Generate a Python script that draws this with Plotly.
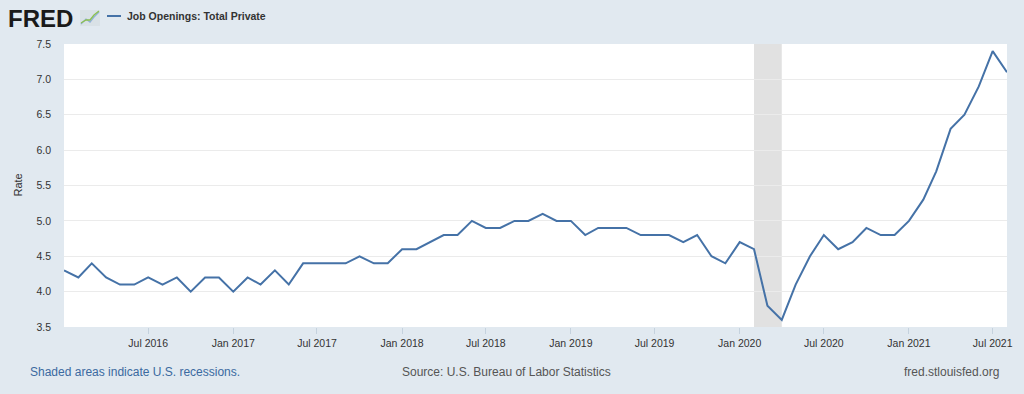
import plotly.graph_objects as go
import pandas as pd

dates = pd.date_range("2016-01-01", "2021-08-01", freq="MS")
values = [
    4.3, 4.2, 4.4, 4.2, 4.1, 4.1, 4.2, 4.1, 4.2, 4.0, 4.2, 4.2,
    4.0, 4.2, 4.1, 4.3, 4.1, 4.4, 4.4, 4.4, 4.4, 4.5, 4.4, 4.4,
    4.6, 4.6, 4.7, 4.8, 4.8, 5.0, 4.9, 4.9, 5.0, 5.0, 5.1, 5.0,
    5.0, 4.8, 4.9, 4.9, 4.9, 4.8, 4.8, 4.8, 4.7, 4.8, 4.5, 4.4,
    4.7, 4.6, 3.8, 3.6, 4.1, 4.5, 4.8, 4.6, 4.7, 4.9, 4.8, 4.8,
    5.0, 5.3, 5.7, 6.3, 6.5, 6.9, 7.4, 7.1,
]
series_name = "Job Openings: Total Private"
recession_start = "2020-02-01"
recession_end = "2020-04-01"
y_ticks = [3.5, 4.0, 4.5, 5.0, 5.5, 6.0, 6.5, 7.0, 7.5]
x_tick_dates = ["2016-07-01", "2017-01-01", "2017-07-01", "2018-01-01",
                "2018-07-01", "2019-01-01", "2019-07-01", "2020-01-01",
                "2020-07-01", "2021-01-01", "2021-07-01"]
x_tick_labels = ["Jul 2016", "Jan 2017", "Jul 2017", "Jan 2018", "Jul 2018",
                 "Jan 2019", "Jul 2019", "Jan 2020", "Jul 2020", "Jan 2021",
                 "Jul 2021"]

BG = "#e1e9f0"
LINE = "#4572a7"
FONT = "Liberation Sans, Arial, Helvetica, sans-serif"

fig = go.Figure()
fig.add_trace(go.Scatter(
    x=dates, y=values, mode="lines", name=series_name,
    line=dict(color=LINE, width=2), showlegend=False,
))
fig.add_vrect(x0=recession_start, x1=recession_end, fillcolor="#e1e1e1",
              opacity=1, line_width=0, layer="below")

fig.update_layout(
    width=1024, height=394,
    margin=dict(l=64, r=17, t=44, b=67),
    paper_bgcolor=BG, plot_bgcolor="white",
    font=dict(family=FONT, size=11, color="#333333"),
    xaxis=dict(
        range=[dates[0], dates[-1]],
        tickvals=x_tick_dates, ticktext=x_tick_labels,
        showgrid=False, zeroline=False,
        ticks="outside", ticklen=6, tickcolor="#c5d2de", tickwidth=1,
        tickfont=dict(size=10.5, color="#333333"),
        showline=False,
    ),
    yaxis=dict(
        range=[3.5, 7.5], tickvals=y_ticks, tickformat=".1f",
        showgrid=True, gridcolor="#ebebeb", gridwidth=1,
        zeroline=False, ticks="", ticklabelstandoff=12,
        tickfont=dict(size=10.5, color="#333333"),
    ),
)

# Y axis title
fig.add_annotation(text="Rate", xref="paper", yref="paper", x=0, y=0.5,
                   xanchor="center", yanchor="middle",
                   xshift=-47, textangle=-90, showarrow=False,
                   font=dict(size=11, color="#333333"))

# Header: FRED logo
fig.add_annotation(text="<b>FRED</b>", xref="paper", yref="paper", x=0, y=1,
                   xanchor="left", yanchor="middle", xshift=-58, yshift=26,
                   showarrow=False,
                   font=dict(size=24, color="#1a1a1a", family="Liberation Sans, Arial"))
# small logo icon (decoration)
fig.add_shape(type="path", xref="paper", yref="paper", xsizemode="pixel",
              ysizemode="pixel", xanchor=0, yanchor=1,
              path="M 16 18 L 36 18 L 36 34 L 16 34 Z",
              fillcolor="#d9e1e6", line_width=0)
fig.add_shape(type="path", xref="paper", yref="paper", xsizemode="pixel",
              ysizemode="pixel", xanchor=0, yanchor=1,
              path="M 17 20 L 22 25 L 26 22 L 30 27 L 35 32",
              line=dict(color="#8fb0d8", width=1.3))
fig.add_shape(type="path", xref="paper", yref="paper", xsizemode="pixel",
              ysizemode="pixel", xanchor=0, yanchor=1,
              path="M 17 21 L 22 24 L 26 24 L 30 29 L 35 33",
              line=dict(color="#8cc04f", width=1.3))

# Legend
fig.add_shape(type="line", xref="paper", yref="paper", xsizemode="pixel",
              ysizemode="pixel", xanchor=0, yanchor=1,
              x0=43, x1=57, y0=28, y1=28, line=dict(color=LINE, width=2))
fig.add_annotation(text="<b>" + series_name + "</b>", xref="paper", yref="paper",
                   x=0, y=1, xanchor="left", yanchor="middle", xshift=61, yshift=28,
                   showarrow=False, font=dict(size=10.5, color="#333333"))

# Footer
fig.add_annotation(text="Shaded areas indicate U.S. recessions.", xref="paper",
                   yref="paper", x=0, y=0, xanchor="left", yanchor="middle",
                   xshift=-36, yshift=-45, showarrow=False,
                   font=dict(size=12, color="#3b6aa0"))
fig.add_annotation(text="Source: U.S. Bureau of Labor Statistics", xref="paper",
                   yref="paper", x=0, y=0, xanchor="left", yanchor="middle",
                   xshift=336, yshift=-45, showarrow=False,
                   font=dict(size=12, color="#555555"))
fig.add_annotation(text="fred.stlouisfed.org", xref="paper",
                   yref="paper", x=1, y=0, xanchor="right", yanchor="middle",
                   xshift=-6, yshift=-45, showarrow=False,
                   font=dict(size=12, color="#555555"))

fig.write_html("out.html", config={"displayModeBar": False},
               post_script="document.body.style.margin='0';document.body.style.overflow='hidden';")
